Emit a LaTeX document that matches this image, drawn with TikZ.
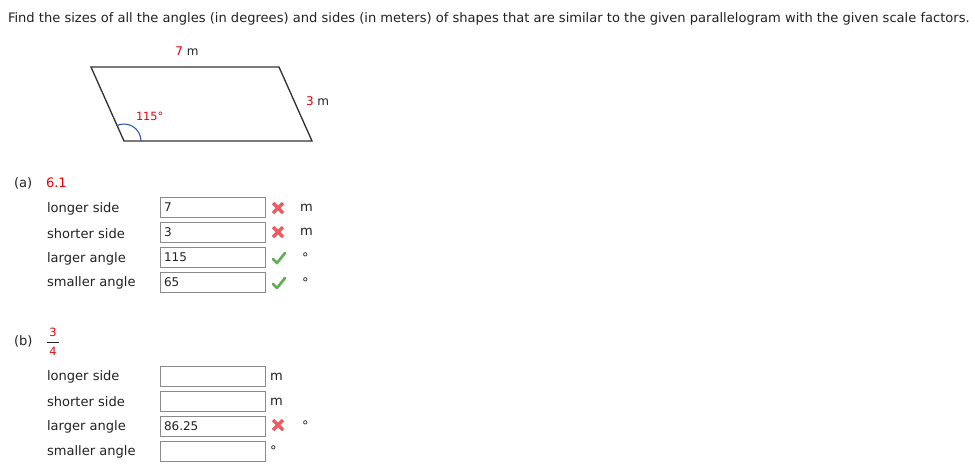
\documentclass[tikz,border=0pt]{standalone}
\usepackage{fontspec}
\setmainfont{DejaVu Sans}
\usetikzlibrary{calc}
\definecolor{txt}{HTML}{222222}
\definecolor{qred}{HTML}{E8000D}
\definecolor{xred}{HTML}{EE5A5F}
\definecolor{okgreen}{HTML}{5FAE57}
\definecolor{boxgray}{HTML}{8A8A8A}
\definecolor{arcblue}{HTML}{2F55A4}
\definecolor{edge}{HTML}{333333}
\tikzset{
  base/.style={inner sep=0pt, outer sep=0pt, text=txt, font=\fontsize{9.8}{12}\selectfont},
  lbl/.style={base, anchor=west},
  ansbox/.style={draw=boxgray, line width=0.9pt, minimum width=78.75pt, minimum height=15pt, inner sep=0pt, anchor=north west, text=txt, font=\fontsize{9}{11}\selectfont},
  anstext/.style={base, anchor=west, font=\fontsize{9}{11}\selectfont},
  wrong/.style={draw=xred, line width=2.5pt},
  right/.style={draw=okgreen, line width=2pt, line cap=round, line join=round},
  unit/.style={base, anchor=west},
}
\newcommand{\xmark}[2]{\draw[wrong] (#1-5,#2-5) -- (#1+5,#2+5) (#1-5,#2+5) -- (#1+5,#2-5);}
\newcommand{\cmark}[2]{\draw[right] (#1-6,#2+1) -- (#1-2,#2+5) -- (#1+6,#2-5);}
\begin{document}
\begin{tikzpicture}[x=0.75pt,y=-0.75pt]
\useasboundingbox[fill=white] (0,0) rectangle (975,469);
% heading
\node[lbl] (head) at (8,19) {Find the sizes of all the angles (in degrees) and sides (in meters) of shapes that are similar to the given parallelogram with the given scale factors.};
% parallelogram
\coordinate (A) at (91,67);
\coordinate (B) at (279,67);
\coordinate (C) at (312,141);
\coordinate (D) at (124,141);
\draw[edge, line width=1pt] (A) -- (B) -- (C) -- (D) -- cycle;
\draw[arcblue, line width=0.8pt] ($(D)+(17,0)$) arc[start angle=0, end angle=-115, radius=17];
\node[base, font=\fontsize{9}{11}\selectfont] (top) at (187,51) {\textcolor{qred}{7} m};
\node[base, anchor=west, font=\fontsize{9}{11}\selectfont] (side) at (306,101) {\textcolor{qred}{3} m};
\node[base, anchor=west, font=\fontsize{8.5}{10}\selectfont, text=qred] (ang) at (136,116) {115°};
% part (a)
\node[lbl] (pa) at (14,183) {(a)};
\node[lbl, text=qred] (sa) at (46,183) {6.1};
\node[lbl] (a1) at (47,209) {longer side};
\node[lbl] (a2) at (47,234) {shorter side};
\node[lbl] (a3) at (47,258.5) {larger angle};
\node[lbl] (a4) at (47,283) {smaller angle};
\node[ansbox] (ba1) at (160,197) {};
\node[ansbox] (ba2) at (160,222) {};
\node[ansbox] (ba3) at (160,247) {};
\node[ansbox] (ba4) at (160,272) {};
\node[anstext] at ($(ba1.west)+(4,0)$) {7};
\node[anstext] at ($(ba2.west)+(4,0)$) {3};
\node[anstext] at ($(ba3.west)+(4,0)$) {115};
\node[anstext] at ($(ba4.west)+(4,0)$) {65};
\xmark{278}{208}
\xmark{278}{232}
\cmark{279}{258}
\cmark{279}{283}
\node[unit] (ua1) at (300,208) {m};
\node[unit] (ua2) at (300,232) {m};
\node[unit] (ua3) at (302,258) {°};
\node[unit] (ua4) at (302,283) {°};
% part (b)
\node[lbl] (pb) at (14,341) {(b)};
\node[base, text=qred, font=\fontsize{8.5}{10}\selectfont] (n3) at (53,332) {3};
\node[base, text=qred, font=\fontsize{8.5}{10}\selectfont] (n4) at (53,351) {4};
\draw[txt, line width=0.75pt] (47,342) -- (59,342);
\node[lbl] (b1) at (47,377) {longer side};
\node[lbl] (b2) at (47,402) {shorter side};
\node[lbl] (b3) at (47,427) {larger angle};
\node[lbl] (b4) at (47,452) {smaller angle};
\node[ansbox] (bb1) at (160,366) {};
\node[ansbox] (bb2) at (160,391) {};
\node[ansbox] (bb3) at (160,416) {};
\node[ansbox] (bb4) at (160,441) {};
\node[anstext] at ($(bb3.west)+(4,0)$) {86.25};
\node[unit] (ub1) at (270,377) {m};
\node[unit] (ub2) at (270,402) {m};
\xmark{278}{425}
\node[unit] (ub3) at (302,426) {°};
\node[unit] (ub4) at (270,451) {°};
\end{tikzpicture}
\end{document}
